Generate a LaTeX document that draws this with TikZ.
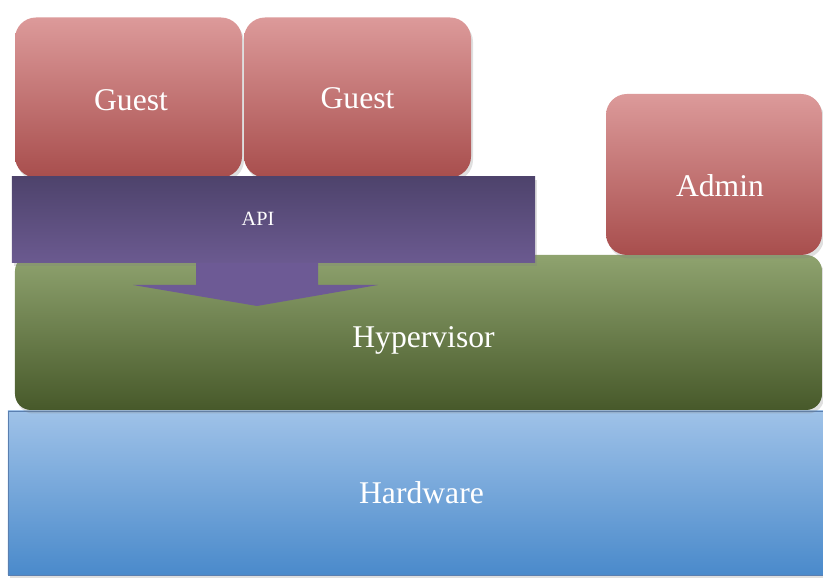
\documentclass[tikz,border=0pt]{standalone}
\usepackage{fontspec}
\setmainfont{Liberation Serif}
\usetikzlibrary{shadows}
\definecolor{guesttop}{HTML}{DC9A9A}
\definecolor{guestbot}{HTML}{A84E4D}
\definecolor{apitop}{HTML}{4E436C}
\definecolor{apibot}{HTML}{6B5A90}
\definecolor{apiarrow}{HTML}{6D5A95}
\definecolor{hvtop}{HTML}{8FA36F}
\definecolor{hvbot}{HTML}{47592A}
\definecolor{hwtop}{HTML}{9FC2E8}
\definecolor{hwbot}{HTML}{4A8ACB}
\definecolor{hwline}{HTML}{5A7FB0}
\tikzset{
  layer/.style={inner sep=0pt,
    drop shadow={opacity=.25, shadow xshift=.04cm, shadow yshift=-.07cm}},
  vm/.style={layer, rounded corners=.42cm, top color=guesttop, bottom color=guestbot,
    minimum width=4.54cm, minimum height=3.2cm},
  caption/.style={text=white, inner sep=0pt, font=\fontsize{18}{20}\selectfont},
}
\begin{document}
\begin{tikzpicture}
  \useasboundingbox (0,0) rectangle (16.46,11.56);
  % \draw[help lines] (0,0) grid (17,12);
  \node[layer, top color=hwtop, bottom color=hwbot, draw=hwline,
    minimum width=16.3cm, minimum height=3.28cm] (hw) at (8.31,1.70) {};
  \node[layer, rounded corners=.32cm, top color=hvtop, bottom color=hvbot,
    minimum width=16.14cm, minimum height=3.1cm] (hv) at (8.37,4.91) {};
  \node[vm, minimum width=4.32cm, minimum height=3.22cm] (admin) at (14.28,8.07) {};
  \node[vm] (guest1) at (2.57,9.61) {};
  \node[vm] (guest2) at (7.15,9.61) {};
  \node[layer, top color=apitop, bottom color=apibot,
    minimum width=10.46cm, minimum height=1.72cm] (api) at (5.47,7.16) {};
  \fill[apiarrow] (3.92,6.30) -- (3.92,5.86) -- (2.66,5.86) -- (5.14,5.44)
    -- (7.56,5.86) -- (6.36,5.86) -- (6.36,6.30) -- cycle;
  % labels
  \node[caption] (hwtext) at ([xshift=.12cm]hw.center) {Hardware};
  \node[caption, anchor=base] (hvtext) at ([xshift=.1cm, yshift=-.3cm]hv.center) {Hypervisor};
  \node[caption] (admintext) at ([xshift=.12cm, yshift=-.22cm]admin.center) {Admin};
  \node[caption] (guest1text) at ([xshift=.05cm, yshift=-.05cm]guest1.center) {Guest};
  \node[caption] (guest2text) at ([yshift=-.01cm]guest2.center) {Guest};
  \node[caption, font=\fontsize{11.5}{14}\selectfont] (apitext) at (5.16,7.18) {API};
\end{tikzpicture}
\end{document}
